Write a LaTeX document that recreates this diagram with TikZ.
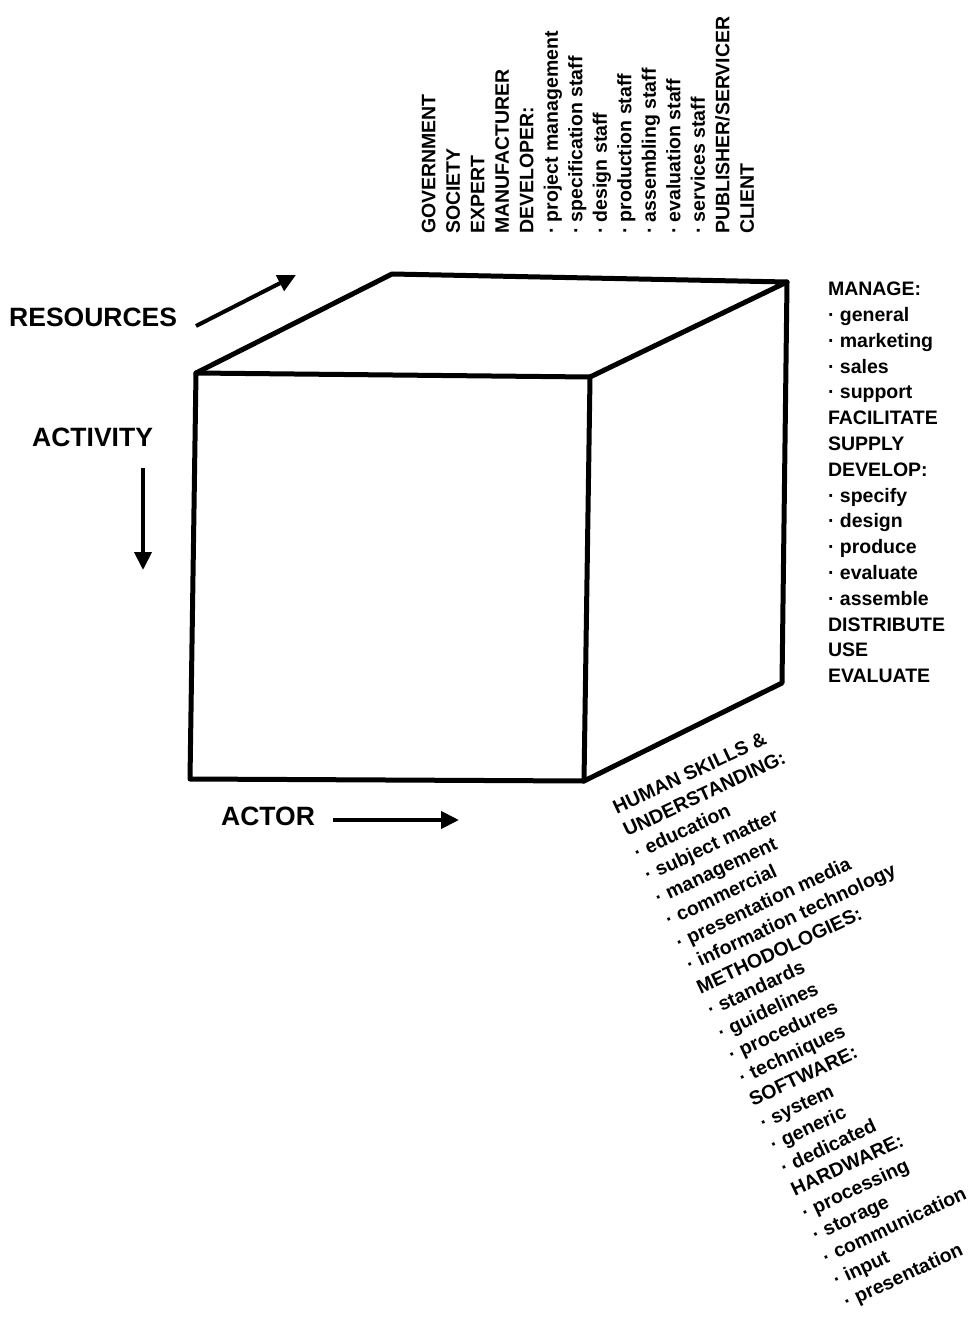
\documentclass[tikz,border=0pt]{standalone}
\usepackage{fontspec}
\setmainfont{Liberation Sans}
\usetikzlibrary{arrows.meta}
\begin{document}
\begin{tikzpicture}[x=1pt,y=-1pt,
  edge/.style={line width=5pt, line join=round, line cap=round},
  axisarrow/.style={line width=4pt, -{Triangle[length=18pt,width=17pt]}},
  axislabel/.style={font=\fontsize{26.5}{30}\selectfont\bfseries, inner sep=0pt, anchor=base west},
  itemlist/.style={font=\fontsize{19.5}{#1}\selectfont\bfseries, inner sep=0pt, outer sep=0pt, anchor=north west, align=left},
]
\useasboundingbox (0,0) rectangle (975,1321);

% cube
\coordinate (ftl) at (196,373);
\coordinate (ftr) at (590,377);
\coordinate (fbr) at (584,781);
\coordinate (fbl) at (190,779);
\coordinate (btl) at (392,274);
\coordinate (btr) at (787,282);
\coordinate (bbr) at (782,683);
\draw[edge] (ftl) -- (ftr) -- (fbr) -- (fbl) -- cycle;
\draw[edge] (ftl) -- (btl) -- (btr) -- (ftr);
\draw[edge] (btr) -- (bbr) -- (fbr);

% axis labels and arrows
\node[axislabel] (res) at (9,326) {RESOURCES};
\node[axislabel] (act) at (32,446) {ACTIVITY};
\node[axislabel] (actor) at (221,825) {ACTOR};
\coordinate (resA) at (196,326);
\coordinate (resB) at (296,275);
\coordinate (actA) at (143,468);
\coordinate (actB) at (143,570);
\coordinate (actorA) at (333,820);
\coordinate (actorB) at (459,820);
\draw[axisarrow] (resA) -- (resB);
\draw[axisarrow] (actA) -- (actB);
\draw[axisarrow] (actorA) -- (actorB);

% top labels (resources)
\begin{scope}[shift={(436,234)}, rotate=90]
\node[itemlist=24.5, transform shape] (toplist) at (0,-14.2) {GOVERNMENT\\SOCIETY\\EXPERT\\MANUFACTURER\\DEVELOPER:\\· project management\\· specification staff\\· design staff\\· production staff\\· assembling staff\\· evaluation staff\\· services staff\\PUBLISHER/SERVICER\\CLIENT};
\end{scope}

% right labels (activity)
\node[itemlist=25.8] (rightlist) at (828,282) {MANAGE:\\· general\\· marketing\\· sales\\· support\\FACILITATE\\SUPPLY\\DEVELOP:\\· specify\\· design\\· produce\\· evaluate\\· assemble\\DISTRIBUTE\\USE\\EVALUATE};

% diagonal labels (actor)
\begin{scope}[shift={(617,815)}, rotate=25]
\node[itemlist=24.8, transform shape] (diaglist) at (0,-14.2) {HUMAN SKILLS \&\\UNDERSTANDING:\\· education\\· subject matter\\· management\\· commercial\\· presentation media\\· information technology\\METHODOLOGIES:\\· standards\\· guidelines\\· procedures\\· techniques\\SOFTWARE:\\· system\\· generic\\· dedicated\\HARDWARE:\\· processing\\· storage\\· communication\\· input\\· presentation};
\end{scope}
\end{tikzpicture}
\end{document}
